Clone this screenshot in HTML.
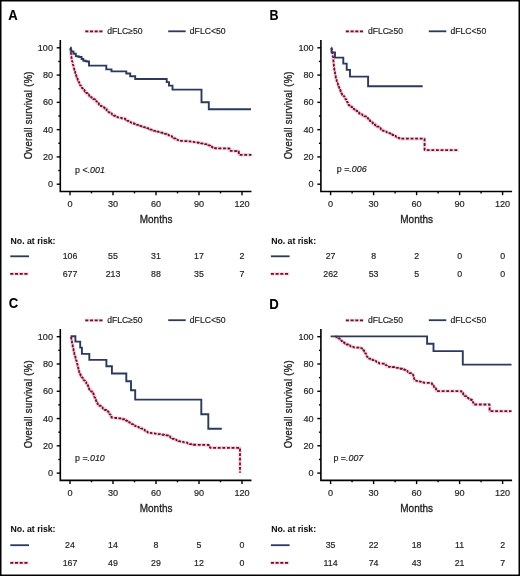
<!DOCTYPE html>
<html><head><meta charset="utf-8"><style>
html,body{margin:0;padding:0;background:#fff;}
svg{display:block;will-change:transform;}
text{font-family:"Liberation Sans", sans-serif;fill:#1e1e1e;stroke:#1e1e1e;stroke-width:0.18px;}
text.ax{stroke-width:0.33px;}
text.let{fill:#000;stroke:#000;stroke-width:0.1px;}
text.nar{fill:#111;stroke:#111;stroke-width:0.05px;}
</style></head><body>
<svg width="520" height="576" viewBox="0 0 520 576">
<rect x="0" y="0" width="520" height="576" fill="#fff"/>
<g transform="translate(0,0)">
<line x1="84.8" y1="31.4" x2="103" y2="31.4" stroke="#f6d0da" stroke-width="3.2"/>
<line x1="85.3" y1="31.4" x2="102.5" y2="31.4" stroke="#6e0e2e" stroke-width="1.8" stroke-dasharray="3,1.7"/>
<text x="107.3" y="33.9" font-size="8.6" textLength="35.2" lengthAdjust="spacingAndGlyphs" >dFLC≥50</text>
<line x1="168.2" y1="31.3" x2="185.7" y2="31.3" stroke="#2b3a5c" stroke-width="1.8"/>
<text x="189.8" y="33.9" font-size="8.6" textLength="35.8" lengthAdjust="spacingAndGlyphs" >dFLC&lt;50</text>
<path d="M60.3,40.1 V191.5 H251.5" fill="none" stroke="#000" stroke-width="1.6" stroke-linejoin="miter"/>
<line x1="56.70" y1="184.20" x2="60.30" y2="184.20" stroke="#000" stroke-width="1.4"/>
<text x="53.0" y="187.20" font-size="9.1" text-anchor="end" >0</text>
<line x1="58.30" y1="170.56" x2="60.30" y2="170.56" stroke="#000" stroke-width="1.4"/>
<line x1="56.70" y1="156.92" x2="60.30" y2="156.92" stroke="#000" stroke-width="1.4"/>
<text x="53.0" y="159.92" font-size="9.1" text-anchor="end" >20</text>
<line x1="58.30" y1="143.28" x2="60.30" y2="143.28" stroke="#000" stroke-width="1.4"/>
<line x1="56.70" y1="129.64" x2="60.30" y2="129.64" stroke="#000" stroke-width="1.4"/>
<text x="53.0" y="132.64" font-size="9.1" text-anchor="end" >40</text>
<line x1="58.30" y1="116.00" x2="60.30" y2="116.00" stroke="#000" stroke-width="1.4"/>
<line x1="56.70" y1="102.36" x2="60.30" y2="102.36" stroke="#000" stroke-width="1.4"/>
<text x="53.0" y="105.36" font-size="9.1" text-anchor="end" >60</text>
<line x1="58.30" y1="88.72" x2="60.30" y2="88.72" stroke="#000" stroke-width="1.4"/>
<line x1="56.70" y1="75.08" x2="60.30" y2="75.08" stroke="#000" stroke-width="1.4"/>
<text x="53.0" y="78.08" font-size="9.1" text-anchor="end" >80</text>
<line x1="58.30" y1="61.44" x2="60.30" y2="61.44" stroke="#000" stroke-width="1.4"/>
<line x1="56.70" y1="47.80" x2="60.30" y2="47.80" stroke="#000" stroke-width="1.4"/>
<text x="53.0" y="50.80" font-size="9.1" text-anchor="end" >100</text>
<line x1="70.00" y1="191.50" x2="70.00" y2="195.20" stroke="#000" stroke-width="1.4"/>
<text x="70.00" y="206.9" font-size="9.1" text-anchor="middle" >0</text>
<line x1="91.50" y1="191.50" x2="91.50" y2="193.40" stroke="#000" stroke-width="1.4"/>
<line x1="113.00" y1="191.50" x2="113.00" y2="195.20" stroke="#000" stroke-width="1.4"/>
<text x="113.00" y="206.9" font-size="9.1" text-anchor="middle" >30</text>
<line x1="134.50" y1="191.50" x2="134.50" y2="193.40" stroke="#000" stroke-width="1.4"/>
<line x1="156.00" y1="191.50" x2="156.00" y2="195.20" stroke="#000" stroke-width="1.4"/>
<text x="156.00" y="206.9" font-size="9.1" text-anchor="middle" >60</text>
<line x1="177.50" y1="191.50" x2="177.50" y2="193.40" stroke="#000" stroke-width="1.4"/>
<line x1="199.00" y1="191.50" x2="199.00" y2="195.20" stroke="#000" stroke-width="1.4"/>
<text x="199.00" y="206.9" font-size="9.1" text-anchor="middle" >90</text>
<line x1="220.50" y1="191.50" x2="220.50" y2="193.40" stroke="#000" stroke-width="1.4"/>
<line x1="242.00" y1="191.50" x2="242.00" y2="195.20" stroke="#000" stroke-width="1.4"/>
<text x="242.00" y="206.9" font-size="9.1" text-anchor="middle" >120</text>
<text x="156.1" y="222.7" font-size="11.6" text-anchor="middle" textLength="32.8" lengthAdjust="spacingAndGlyphs" class="ax">Months</text>
<text transform="translate(31.6,115.4) rotate(-90) scale(0.82,1)" x="0" y="0" font-size="11.5" text-anchor="middle" textLength="107.07" lengthAdjust="spacing" class="ax">Overall survival (%)</text>
<text x="75.1" y="172.5" font-size="8.85" >p <<tspan font-style="italic">.001</tspan></text>
<text x="10.6" y="243.6" font-size="8.7" font-weight="bold" class="nar">No. at risk:</text>
<line x1="10.3" y1="256.3" x2="29.0" y2="256.3" stroke="#2b3a5c" stroke-width="1.8"/>
<line x1="9.8" y1="273.9" x2="28.7" y2="273.9" stroke="#f6d0da" stroke-width="3.2"/>
<line x1="10.3" y1="273.9" x2="28.2" y2="273.9" stroke="#6e0e2e" stroke-width="1.8" stroke-dasharray="3,1.7"/>
<text x="70.00" y="258.8" font-size="8.8" text-anchor="middle" >106</text>
<text x="113.00" y="258.8" font-size="8.8" text-anchor="middle" >55</text>
<text x="156.00" y="258.8" font-size="8.8" text-anchor="middle" >31</text>
<text x="199.00" y="258.8" font-size="8.8" text-anchor="middle" >17</text>
<text x="242.00" y="258.8" font-size="8.8" text-anchor="middle" >2</text>
<text x="70.00" y="277.0" font-size="8.8" text-anchor="middle" >677</text>
<text x="113.00" y="277.0" font-size="8.8" text-anchor="middle" >213</text>
<text x="156.00" y="277.0" font-size="8.8" text-anchor="middle" >88</text>
<text x="199.00" y="277.0" font-size="8.8" text-anchor="middle" >35</text>
<text x="242.00" y="277.0" font-size="8.8" text-anchor="middle" >7</text>
<path d="M70.50,48.00 L70.60,48.00 L70.60,49.77 L70.70,49.77 L70.70,51.53 L70.80,51.53 L70.80,53.30 L71.03,53.30 L71.03,54.97 L71.25,54.97 L71.25,56.65 L71.47,56.65 L71.47,58.33 L71.70,58.33 L71.70,60.00 L72.12,60.00 L72.12,61.66 L72.54,61.66 L72.54,63.32 L72.96,63.32 L72.96,64.98 L73.38,64.98 L73.38,66.64 L73.80,66.64 L73.80,68.30 L74.20,68.30 L74.20,69.90 L74.60,69.90 L74.60,71.50 L75.17,71.50 L75.17,73.25 L75.75,73.25 L75.75,75.00 L76.33,75.00 L76.33,76.75 L76.90,76.75 L76.90,78.50 L77.68,78.50 L77.68,80.22 L78.45,80.22 L78.45,81.95 L79.22,81.95 L79.22,83.68 L80.00,83.68 L80.00,85.40 L81.03,85.40 L81.03,86.93 L82.07,86.93 L82.07,88.47 L83.10,88.47 L83.10,90.00 L84.65,90.00 L84.65,91.55 L86.20,91.55 L86.20,93.10 L87.70,93.10 L87.70,94.65 L89.20,94.65 L89.20,96.20 L91.15,96.20 L91.15,97.70 L93.10,97.70 L93.10,99.20 L95.00,99.20 L95.00,101.15 L96.90,101.15 L96.90,103.10 L98.85,103.10 L98.85,104.65 L100.80,104.65 L100.80,106.20 L102.70,106.20 L102.70,107.35 L104.60,107.35 L104.60,108.50 L106.55,108.50 L106.55,110.40 L108.50,110.40 L108.50,112.30 L110.22,112.30 L110.22,113.45 L111.95,113.45 L111.95,114.60 L113.68,114.60 L113.68,115.75 L115.40,115.75 L115.40,116.90 L117.43,116.90 L117.43,117.35 L119.45,117.35 L119.45,117.80 L121.47,117.80 L121.47,118.25 L123.50,118.25 L123.50,118.70 L125.40,118.70 L125.40,119.83 L127.30,119.83 L127.30,120.97 L129.20,120.97 L129.20,122.10 L131.06,122.10 L131.06,122.80 L132.92,122.80 L132.92,123.50 L134.78,123.50 L134.78,124.20 L136.64,124.20 L136.64,124.90 L138.50,124.90 L138.50,125.60 L140.12,125.60 L140.12,126.07 L141.75,126.07 L141.75,126.55 L143.38,126.55 L143.38,127.03 L145.00,127.03 L145.00,127.50 L146.72,127.50 L146.72,128.22 L148.45,128.22 L148.45,128.95 L150.18,128.95 L150.18,129.68 L151.90,129.68 L151.90,130.40 L153.62,130.40 L153.62,130.82 L155.35,130.82 L155.35,131.25 L157.08,131.25 L157.08,131.68 L158.80,131.68 L158.80,132.10 L160.73,132.10 L160.73,132.67 L162.67,132.67 L162.67,133.23 L164.60,133.23 L164.60,133.80 L166.53,133.80 L166.53,134.60 L168.47,134.60 L168.47,135.40 L170.40,135.40 L170.40,136.20 L172.13,136.20 L172.13,137.33 L173.87,137.33 L173.87,138.47 L175.60,138.47 L175.60,139.60 L177.60,139.60 L177.60,140.20 L179.60,140.20 L179.60,140.80 L181.44,140.80 L181.44,140.90 L183.28,140.90 L183.28,141.00 L185.12,141.00 L185.12,141.10 L186.96,141.10 L186.96,141.20 L188.80,141.20 L188.80,141.30 L190.55,141.30 L190.55,141.60 L192.30,141.60 L192.30,141.90 L194.05,141.90 L194.05,142.20 L195.80,142.20 L195.80,142.50 L197.47,142.50 L197.47,142.77 L199.13,142.77 L199.13,143.03 L200.80,143.03 L200.80,143.30 L202.70,143.30 L202.70,143.67 L204.60,143.67 L204.60,144.03 L206.50,144.03 L206.50,144.40 L208.25,144.40 L208.25,145.35 L210.00,145.35 L210.00,146.30 L211.75,146.30 L211.75,147.25 L213.50,147.25 L213.50,148.20 L215.22,148.20 L215.22,148.24 L216.95,148.24 L216.95,148.27 L218.68,148.27 L218.68,148.31 L220.40,148.31 L220.40,148.35 L222.12,148.35 L222.12,148.39 L223.85,148.39 L223.85,148.43 L225.58,148.43 L225.58,148.46 L227.30,148.46 L227.30,148.50 L229.60,148.50 L229.60,150.80 L231.44,150.80 L231.44,150.90 L233.28,150.90 L233.28,151.00 L235.12,151.00 L235.12,151.10 L236.96,151.10 L236.96,151.20 L238.80,151.20 L238.80,151.30 L238.80,154.80 L251.50,154.80" fill="none" stroke="#f6d0da" stroke-width="3.4" stroke-linejoin="round"/>
<path d="M70.50,48.00 L70.60,48.00 L70.60,49.77 L70.70,49.77 L70.70,51.53 L70.80,51.53 L70.80,53.30 L71.03,53.30 L71.03,54.97 L71.25,54.97 L71.25,56.65 L71.47,56.65 L71.47,58.33 L71.70,58.33 L71.70,60.00 L72.12,60.00 L72.12,61.66 L72.54,61.66 L72.54,63.32 L72.96,63.32 L72.96,64.98 L73.38,64.98 L73.38,66.64 L73.80,66.64 L73.80,68.30 L74.20,68.30 L74.20,69.90 L74.60,69.90 L74.60,71.50 L75.17,71.50 L75.17,73.25 L75.75,73.25 L75.75,75.00 L76.33,75.00 L76.33,76.75 L76.90,76.75 L76.90,78.50 L77.68,78.50 L77.68,80.22 L78.45,80.22 L78.45,81.95 L79.22,81.95 L79.22,83.68 L80.00,83.68 L80.00,85.40 L81.03,85.40 L81.03,86.93 L82.07,86.93 L82.07,88.47 L83.10,88.47 L83.10,90.00 L84.65,90.00 L84.65,91.55 L86.20,91.55 L86.20,93.10 L87.70,93.10 L87.70,94.65 L89.20,94.65 L89.20,96.20 L91.15,96.20 L91.15,97.70 L93.10,97.70 L93.10,99.20 L95.00,99.20 L95.00,101.15 L96.90,101.15 L96.90,103.10 L98.85,103.10 L98.85,104.65 L100.80,104.65 L100.80,106.20 L102.70,106.20 L102.70,107.35 L104.60,107.35 L104.60,108.50 L106.55,108.50 L106.55,110.40 L108.50,110.40 L108.50,112.30 L110.22,112.30 L110.22,113.45 L111.95,113.45 L111.95,114.60 L113.68,114.60 L113.68,115.75 L115.40,115.75 L115.40,116.90 L117.43,116.90 L117.43,117.35 L119.45,117.35 L119.45,117.80 L121.47,117.80 L121.47,118.25 L123.50,118.25 L123.50,118.70 L125.40,118.70 L125.40,119.83 L127.30,119.83 L127.30,120.97 L129.20,120.97 L129.20,122.10 L131.06,122.10 L131.06,122.80 L132.92,122.80 L132.92,123.50 L134.78,123.50 L134.78,124.20 L136.64,124.20 L136.64,124.90 L138.50,124.90 L138.50,125.60 L140.12,125.60 L140.12,126.07 L141.75,126.07 L141.75,126.55 L143.38,126.55 L143.38,127.03 L145.00,127.03 L145.00,127.50 L146.72,127.50 L146.72,128.22 L148.45,128.22 L148.45,128.95 L150.18,128.95 L150.18,129.68 L151.90,129.68 L151.90,130.40 L153.62,130.40 L153.62,130.82 L155.35,130.82 L155.35,131.25 L157.08,131.25 L157.08,131.68 L158.80,131.68 L158.80,132.10 L160.73,132.10 L160.73,132.67 L162.67,132.67 L162.67,133.23 L164.60,133.23 L164.60,133.80 L166.53,133.80 L166.53,134.60 L168.47,134.60 L168.47,135.40 L170.40,135.40 L170.40,136.20 L172.13,136.20 L172.13,137.33 L173.87,137.33 L173.87,138.47 L175.60,138.47 L175.60,139.60 L177.60,139.60 L177.60,140.20 L179.60,140.20 L179.60,140.80 L181.44,140.80 L181.44,140.90 L183.28,140.90 L183.28,141.00 L185.12,141.00 L185.12,141.10 L186.96,141.10 L186.96,141.20 L188.80,141.20 L188.80,141.30 L190.55,141.30 L190.55,141.60 L192.30,141.60 L192.30,141.90 L194.05,141.90 L194.05,142.20 L195.80,142.20 L195.80,142.50 L197.47,142.50 L197.47,142.77 L199.13,142.77 L199.13,143.03 L200.80,143.03 L200.80,143.30 L202.70,143.30 L202.70,143.67 L204.60,143.67 L204.60,144.03 L206.50,144.03 L206.50,144.40 L208.25,144.40 L208.25,145.35 L210.00,145.35 L210.00,146.30 L211.75,146.30 L211.75,147.25 L213.50,147.25 L213.50,148.20 L215.22,148.20 L215.22,148.24 L216.95,148.24 L216.95,148.27 L218.68,148.27 L218.68,148.31 L220.40,148.31 L220.40,148.35 L222.12,148.35 L222.12,148.39 L223.85,148.39 L223.85,148.43 L225.58,148.43 L225.58,148.46 L227.30,148.46 L227.30,148.50 L229.60,148.50 L229.60,150.80 L231.44,150.80 L231.44,150.90 L233.28,150.90 L233.28,151.00 L235.12,151.00 L235.12,151.10 L236.96,151.10 L236.96,151.20 L238.80,151.20 L238.80,151.30 L238.80,154.80 L251.50,154.80" fill="none" stroke="#6e0e2e" stroke-width="1.8" stroke-dasharray="2.8,1.8" stroke-linejoin="bevel"/>
<path d="M70.40,47.80 L70.80,47.80 L70.80,49.65 L71.20,49.65 L71.20,51.50 L73.50,51.50 L73.50,53.80 L75.80,53.80 L75.80,56.10 L77.55,56.10 L77.55,56.55 L79.30,56.55 L79.30,57.00 L81.60,57.00 L81.60,59.00 L83.30,59.00 L83.30,60.70 L85.60,60.70 L85.60,61.30 L87.30,61.30 L87.30,61.55 L89.00,61.55 L89.00,61.80 L89.00,65.60 L106.30,65.60 L106.30,69.40 L111.50,69.40 L111.50,71.40 L126.30,71.40 L126.30,73.50 L130.20,73.50 L130.20,76.30 L135.20,76.30 L135.20,79.00 L166.70,79.00 L166.70,82.10 L169.00,82.10 L169.00,85.60 L172.50,85.60 L172.50,89.60 L201.50,89.60 L201.50,102.30 L208.80,102.30 L208.80,109.20 L251.00,109.20" fill="none" stroke="#2b3a5c" stroke-width="1.9" stroke-linejoin="miter"/>
</g>
<g transform="translate(260.6,0)">
<line x1="84.8" y1="31.4" x2="103" y2="31.4" stroke="#f6d0da" stroke-width="3.2"/>
<line x1="85.3" y1="31.4" x2="102.5" y2="31.4" stroke="#6e0e2e" stroke-width="1.8" stroke-dasharray="3,1.7"/>
<text x="107.3" y="33.9" font-size="8.6" textLength="35.2" lengthAdjust="spacingAndGlyphs" >dFLC≥50</text>
<line x1="168.2" y1="31.3" x2="185.7" y2="31.3" stroke="#2b3a5c" stroke-width="1.8"/>
<text x="189.8" y="33.9" font-size="8.6" textLength="35.8" lengthAdjust="spacingAndGlyphs" >dFLC&lt;50</text>
<path d="M60.3,40.1 V191.5 H251.5" fill="none" stroke="#000" stroke-width="1.6" stroke-linejoin="miter"/>
<line x1="56.70" y1="184.20" x2="60.30" y2="184.20" stroke="#000" stroke-width="1.4"/>
<text x="53.0" y="187.20" font-size="9.1" text-anchor="end" >0</text>
<line x1="58.30" y1="170.56" x2="60.30" y2="170.56" stroke="#000" stroke-width="1.4"/>
<line x1="56.70" y1="156.92" x2="60.30" y2="156.92" stroke="#000" stroke-width="1.4"/>
<text x="53.0" y="159.92" font-size="9.1" text-anchor="end" >20</text>
<line x1="58.30" y1="143.28" x2="60.30" y2="143.28" stroke="#000" stroke-width="1.4"/>
<line x1="56.70" y1="129.64" x2="60.30" y2="129.64" stroke="#000" stroke-width="1.4"/>
<text x="53.0" y="132.64" font-size="9.1" text-anchor="end" >40</text>
<line x1="58.30" y1="116.00" x2="60.30" y2="116.00" stroke="#000" stroke-width="1.4"/>
<line x1="56.70" y1="102.36" x2="60.30" y2="102.36" stroke="#000" stroke-width="1.4"/>
<text x="53.0" y="105.36" font-size="9.1" text-anchor="end" >60</text>
<line x1="58.30" y1="88.72" x2="60.30" y2="88.72" stroke="#000" stroke-width="1.4"/>
<line x1="56.70" y1="75.08" x2="60.30" y2="75.08" stroke="#000" stroke-width="1.4"/>
<text x="53.0" y="78.08" font-size="9.1" text-anchor="end" >80</text>
<line x1="58.30" y1="61.44" x2="60.30" y2="61.44" stroke="#000" stroke-width="1.4"/>
<line x1="56.70" y1="47.80" x2="60.30" y2="47.80" stroke="#000" stroke-width="1.4"/>
<text x="53.0" y="50.80" font-size="9.1" text-anchor="end" >100</text>
<line x1="70.00" y1="191.50" x2="70.00" y2="195.20" stroke="#000" stroke-width="1.4"/>
<text x="70.00" y="206.9" font-size="9.1" text-anchor="middle" >0</text>
<line x1="91.50" y1="191.50" x2="91.50" y2="193.40" stroke="#000" stroke-width="1.4"/>
<line x1="113.00" y1="191.50" x2="113.00" y2="195.20" stroke="#000" stroke-width="1.4"/>
<text x="113.00" y="206.9" font-size="9.1" text-anchor="middle" >30</text>
<line x1="134.50" y1="191.50" x2="134.50" y2="193.40" stroke="#000" stroke-width="1.4"/>
<line x1="156.00" y1="191.50" x2="156.00" y2="195.20" stroke="#000" stroke-width="1.4"/>
<text x="156.00" y="206.9" font-size="9.1" text-anchor="middle" >60</text>
<line x1="177.50" y1="191.50" x2="177.50" y2="193.40" stroke="#000" stroke-width="1.4"/>
<line x1="199.00" y1="191.50" x2="199.00" y2="195.20" stroke="#000" stroke-width="1.4"/>
<text x="199.00" y="206.9" font-size="9.1" text-anchor="middle" >90</text>
<line x1="220.50" y1="191.50" x2="220.50" y2="193.40" stroke="#000" stroke-width="1.4"/>
<line x1="242.00" y1="191.50" x2="242.00" y2="195.20" stroke="#000" stroke-width="1.4"/>
<text x="242.00" y="206.9" font-size="9.1" text-anchor="middle" >120</text>
<text x="156.1" y="222.7" font-size="11.6" text-anchor="middle" textLength="32.8" lengthAdjust="spacingAndGlyphs" class="ax">Months</text>
<text transform="translate(31.6,115.4) rotate(-90) scale(0.82,1)" x="0" y="0" font-size="11.5" text-anchor="middle" textLength="107.07" lengthAdjust="spacing" class="ax">Overall survival (%)</text>
<text x="76.2" y="172.3" font-size="8.85" >p =<tspan font-style="italic">.006</tspan></text>
<text x="10.6" y="243.6" font-size="8.7" font-weight="bold" class="nar">No. at risk:</text>
<line x1="10.3" y1="256.3" x2="29.0" y2="256.3" stroke="#2b3a5c" stroke-width="1.8"/>
<line x1="9.8" y1="273.9" x2="28.7" y2="273.9" stroke="#f6d0da" stroke-width="3.2"/>
<line x1="10.3" y1="273.9" x2="28.2" y2="273.9" stroke="#6e0e2e" stroke-width="1.8" stroke-dasharray="3,1.7"/>
<text x="70.00" y="258.8" font-size="8.8" text-anchor="middle" >27</text>
<text x="113.00" y="258.8" font-size="8.8" text-anchor="middle" >8</text>
<text x="156.00" y="258.8" font-size="8.8" text-anchor="middle" >2</text>
<text x="199.00" y="258.8" font-size="8.8" text-anchor="middle" >0</text>
<text x="242.00" y="258.8" font-size="8.8" text-anchor="middle" >0</text>
<text x="70.00" y="277.0" font-size="8.8" text-anchor="middle" >262</text>
<text x="113.00" y="277.0" font-size="8.8" text-anchor="middle" >53</text>
<text x="156.00" y="277.0" font-size="8.8" text-anchor="middle" >5</text>
<text x="199.00" y="277.0" font-size="8.8" text-anchor="middle" >0</text>
<text x="242.00" y="277.0" font-size="8.8" text-anchor="middle" >0</text>
<path d="M70.70,47.80 L71.00,47.80 L71.00,49.53 L71.30,49.53 L71.30,51.27 L71.60,51.27 L71.60,53.00 L71.90,53.00 L71.90,54.97 L72.20,54.97 L72.20,56.93 L72.50,56.93 L72.50,58.90 L72.70,58.90 L72.70,60.75 L72.90,60.75 L72.90,62.60 L73.10,62.60 L73.10,64.45 L73.30,64.45 L73.30,66.30 L73.50,66.30 L73.50,68.15 L73.70,68.15 L73.70,70.00 L74.06,70.00 L74.06,71.94 L74.42,71.94 L74.42,73.88 L74.78,73.88 L74.78,75.82 L75.14,75.82 L75.14,77.76 L75.50,77.76 L75.50,79.70 L76.10,79.70 L76.10,81.45 L76.70,81.45 L76.70,83.20 L77.30,83.20 L77.30,84.95 L77.90,84.95 L77.90,86.70 L78.60,86.70 L78.60,88.36 L79.30,88.36 L79.30,90.02 L80.00,90.02 L80.00,91.68 L80.70,91.68 L80.70,93.34 L81.40,93.34 L81.40,95.00 L82.90,95.00 L82.90,96.20 L83.83,96.20 L83.83,97.73 L84.77,97.73 L84.77,99.27 L85.70,99.27 L85.70,100.80 L86.50,100.80 L86.50,102.33 L87.30,102.33 L87.30,103.87 L88.10,103.87 L88.10,105.40 L89.80,105.40 L89.80,106.73 L91.50,106.73 L91.50,108.07 L93.20,108.07 L93.20,109.40 L94.93,109.40 L94.93,110.77 L96.67,110.77 L96.67,112.13 L98.40,112.13 L98.40,113.50 L100.13,113.50 L100.13,114.43 L101.87,114.43 L101.87,115.37 L103.60,115.37 L103.60,116.30 L105.65,116.30 L105.65,118.05 L107.70,118.05 L107.70,119.80 L109.23,119.80 L109.23,121.13 L110.77,121.13 L110.77,122.47 L112.30,122.47 L112.30,123.80 L114.30,123.80 L114.30,125.25 L116.30,125.25 L116.30,126.70 L118.23,126.70 L118.23,128.07 L120.17,128.07 L120.17,129.43 L122.10,129.43 L122.10,130.80 L124.03,130.80 L124.03,131.57 L125.97,131.57 L125.97,132.33 L127.90,132.33 L127.90,133.10 L129.80,133.10 L129.80,134.07 L131.70,134.07 L131.70,135.03 L133.60,135.03 L133.60,136.00 L135.33,136.00 L135.33,136.90 L137.07,136.90 L137.07,137.80 L138.80,137.80 L138.80,138.70 L164.00,138.70 L164.00,150.10 L198.20,150.10" fill="none" stroke="#f6d0da" stroke-width="3.4" stroke-linejoin="round"/>
<path d="M70.70,47.80 L71.00,47.80 L71.00,49.53 L71.30,49.53 L71.30,51.27 L71.60,51.27 L71.60,53.00 L71.90,53.00 L71.90,54.97 L72.20,54.97 L72.20,56.93 L72.50,56.93 L72.50,58.90 L72.70,58.90 L72.70,60.75 L72.90,60.75 L72.90,62.60 L73.10,62.60 L73.10,64.45 L73.30,64.45 L73.30,66.30 L73.50,66.30 L73.50,68.15 L73.70,68.15 L73.70,70.00 L74.06,70.00 L74.06,71.94 L74.42,71.94 L74.42,73.88 L74.78,73.88 L74.78,75.82 L75.14,75.82 L75.14,77.76 L75.50,77.76 L75.50,79.70 L76.10,79.70 L76.10,81.45 L76.70,81.45 L76.70,83.20 L77.30,83.20 L77.30,84.95 L77.90,84.95 L77.90,86.70 L78.60,86.70 L78.60,88.36 L79.30,88.36 L79.30,90.02 L80.00,90.02 L80.00,91.68 L80.70,91.68 L80.70,93.34 L81.40,93.34 L81.40,95.00 L82.90,95.00 L82.90,96.20 L83.83,96.20 L83.83,97.73 L84.77,97.73 L84.77,99.27 L85.70,99.27 L85.70,100.80 L86.50,100.80 L86.50,102.33 L87.30,102.33 L87.30,103.87 L88.10,103.87 L88.10,105.40 L89.80,105.40 L89.80,106.73 L91.50,106.73 L91.50,108.07 L93.20,108.07 L93.20,109.40 L94.93,109.40 L94.93,110.77 L96.67,110.77 L96.67,112.13 L98.40,112.13 L98.40,113.50 L100.13,113.50 L100.13,114.43 L101.87,114.43 L101.87,115.37 L103.60,115.37 L103.60,116.30 L105.65,116.30 L105.65,118.05 L107.70,118.05 L107.70,119.80 L109.23,119.80 L109.23,121.13 L110.77,121.13 L110.77,122.47 L112.30,122.47 L112.30,123.80 L114.30,123.80 L114.30,125.25 L116.30,125.25 L116.30,126.70 L118.23,126.70 L118.23,128.07 L120.17,128.07 L120.17,129.43 L122.10,129.43 L122.10,130.80 L124.03,130.80 L124.03,131.57 L125.97,131.57 L125.97,132.33 L127.90,132.33 L127.90,133.10 L129.80,133.10 L129.80,134.07 L131.70,134.07 L131.70,135.03 L133.60,135.03 L133.60,136.00 L135.33,136.00 L135.33,136.90 L137.07,136.90 L137.07,137.80 L138.80,137.80 L138.80,138.70 L164.00,138.70 L164.00,150.10 L198.20,150.10" fill="none" stroke="#6e0e2e" stroke-width="1.8" stroke-dasharray="2.8,1.8" stroke-linejoin="bevel"/>
<path d="M71.00,48.00 L71.00,52.40 L74.40,52.40 L74.40,57.60 L82.70,57.60 L82.70,63.60 L86.10,63.60 L86.10,69.90 L89.40,69.90 L89.40,76.60 L107.50,76.60 L107.50,86.20 L162.10,86.20" fill="none" stroke="#2b3a5c" stroke-width="1.9" stroke-linejoin="miter"/>
</g>
<g transform="translate(0,288.9)">
<line x1="84.8" y1="31.4" x2="103" y2="31.4" stroke="#f6d0da" stroke-width="3.2"/>
<line x1="85.3" y1="31.4" x2="102.5" y2="31.4" stroke="#6e0e2e" stroke-width="1.8" stroke-dasharray="3,1.7"/>
<text x="107.3" y="33.9" font-size="8.6" textLength="35.2" lengthAdjust="spacingAndGlyphs" >dFLC≥50</text>
<line x1="168.2" y1="31.3" x2="185.7" y2="31.3" stroke="#2b3a5c" stroke-width="1.8"/>
<text x="189.8" y="33.9" font-size="8.6" textLength="35.8" lengthAdjust="spacingAndGlyphs" >dFLC&lt;50</text>
<path d="M60.3,40.1 V191.5 H251.5" fill="none" stroke="#000" stroke-width="1.6" stroke-linejoin="miter"/>
<line x1="56.70" y1="184.20" x2="60.30" y2="184.20" stroke="#000" stroke-width="1.4"/>
<text x="53.0" y="187.20" font-size="9.1" text-anchor="end" >0</text>
<line x1="58.30" y1="170.56" x2="60.30" y2="170.56" stroke="#000" stroke-width="1.4"/>
<line x1="56.70" y1="156.92" x2="60.30" y2="156.92" stroke="#000" stroke-width="1.4"/>
<text x="53.0" y="159.92" font-size="9.1" text-anchor="end" >20</text>
<line x1="58.30" y1="143.28" x2="60.30" y2="143.28" stroke="#000" stroke-width="1.4"/>
<line x1="56.70" y1="129.64" x2="60.30" y2="129.64" stroke="#000" stroke-width="1.4"/>
<text x="53.0" y="132.64" font-size="9.1" text-anchor="end" >40</text>
<line x1="58.30" y1="116.00" x2="60.30" y2="116.00" stroke="#000" stroke-width="1.4"/>
<line x1="56.70" y1="102.36" x2="60.30" y2="102.36" stroke="#000" stroke-width="1.4"/>
<text x="53.0" y="105.36" font-size="9.1" text-anchor="end" >60</text>
<line x1="58.30" y1="88.72" x2="60.30" y2="88.72" stroke="#000" stroke-width="1.4"/>
<line x1="56.70" y1="75.08" x2="60.30" y2="75.08" stroke="#000" stroke-width="1.4"/>
<text x="53.0" y="78.08" font-size="9.1" text-anchor="end" >80</text>
<line x1="58.30" y1="61.44" x2="60.30" y2="61.44" stroke="#000" stroke-width="1.4"/>
<line x1="56.70" y1="47.80" x2="60.30" y2="47.80" stroke="#000" stroke-width="1.4"/>
<text x="53.0" y="50.80" font-size="9.1" text-anchor="end" >100</text>
<line x1="70.00" y1="191.50" x2="70.00" y2="195.20" stroke="#000" stroke-width="1.4"/>
<text x="70.00" y="206.9" font-size="9.1" text-anchor="middle" >0</text>
<line x1="91.50" y1="191.50" x2="91.50" y2="193.40" stroke="#000" stroke-width="1.4"/>
<line x1="113.00" y1="191.50" x2="113.00" y2="195.20" stroke="#000" stroke-width="1.4"/>
<text x="113.00" y="206.9" font-size="9.1" text-anchor="middle" >30</text>
<line x1="134.50" y1="191.50" x2="134.50" y2="193.40" stroke="#000" stroke-width="1.4"/>
<line x1="156.00" y1="191.50" x2="156.00" y2="195.20" stroke="#000" stroke-width="1.4"/>
<text x="156.00" y="206.9" font-size="9.1" text-anchor="middle" >60</text>
<line x1="177.50" y1="191.50" x2="177.50" y2="193.40" stroke="#000" stroke-width="1.4"/>
<line x1="199.00" y1="191.50" x2="199.00" y2="195.20" stroke="#000" stroke-width="1.4"/>
<text x="199.00" y="206.9" font-size="9.1" text-anchor="middle" >90</text>
<line x1="220.50" y1="191.50" x2="220.50" y2="193.40" stroke="#000" stroke-width="1.4"/>
<line x1="242.00" y1="191.50" x2="242.00" y2="195.20" stroke="#000" stroke-width="1.4"/>
<text x="242.00" y="206.9" font-size="9.1" text-anchor="middle" >120</text>
<text x="156.1" y="222.7" font-size="11.6" text-anchor="middle" textLength="32.8" lengthAdjust="spacingAndGlyphs" class="ax">Months</text>
<text transform="translate(31.6,115.4) rotate(-90) scale(0.82,1)" x="0" y="0" font-size="11.5" text-anchor="middle" textLength="107.07" lengthAdjust="spacing" class="ax">Overall survival (%)</text>
<text x="75.0" y="172.6" font-size="8.85" >p =<tspan font-style="italic">.010</tspan></text>
<text x="10.6" y="243.6" font-size="8.7" font-weight="bold" class="nar">No. at risk:</text>
<line x1="10.3" y1="256.3" x2="29.0" y2="256.3" stroke="#2b3a5c" stroke-width="1.8"/>
<line x1="9.8" y1="273.9" x2="28.7" y2="273.9" stroke="#f6d0da" stroke-width="3.2"/>
<line x1="10.3" y1="273.9" x2="28.2" y2="273.9" stroke="#6e0e2e" stroke-width="1.8" stroke-dasharray="3,1.7"/>
<text x="70.00" y="258.8" font-size="8.8" text-anchor="middle" >24</text>
<text x="113.00" y="258.8" font-size="8.8" text-anchor="middle" >14</text>
<text x="156.00" y="258.8" font-size="8.8" text-anchor="middle" >8</text>
<text x="199.00" y="258.8" font-size="8.8" text-anchor="middle" >5</text>
<text x="242.00" y="258.8" font-size="8.8" text-anchor="middle" >0</text>
<text x="70.00" y="277.0" font-size="8.8" text-anchor="middle" >167</text>
<text x="113.00" y="277.0" font-size="8.8" text-anchor="middle" >49</text>
<text x="156.00" y="277.0" font-size="8.8" text-anchor="middle" >29</text>
<text x="199.00" y="277.0" font-size="8.8" text-anchor="middle" >12</text>
<text x="242.00" y="277.0" font-size="8.8" text-anchor="middle" >0</text>
<path d="M70.90,48.20 L71.25,48.20 L71.25,50.10 L71.60,50.10 L71.60,52.00 L71.95,52.00 L71.95,53.90 L72.30,53.90 L72.30,55.80 L72.70,55.80 L72.70,57.74 L73.10,57.74 L73.10,59.68 L73.50,59.68 L73.50,61.62 L73.90,61.62 L73.90,63.56 L74.30,63.56 L74.30,65.50 L74.86,65.50 L74.86,67.46 L75.42,67.46 L75.42,69.42 L75.98,69.42 L75.98,71.38 L76.54,71.38 L76.54,73.34 L77.10,73.34 L77.10,75.30 L77.52,75.30 L77.52,76.96 L77.94,76.96 L77.94,78.62 L78.36,78.62 L78.36,80.28 L78.78,80.28 L78.78,81.94 L79.20,81.94 L79.20,83.60 L79.90,83.60 L79.90,85.25 L80.60,85.25 L80.60,86.90 L81.63,86.90 L81.63,88.43 L82.67,88.43 L82.67,89.97 L83.70,89.97 L83.70,91.50 L84.97,91.50 L84.97,93.03 L86.23,93.03 L86.23,94.57 L87.50,94.57 L87.50,96.10 L88.03,96.10 L88.03,97.63 L88.57,97.63 L88.57,99.17 L89.10,99.17 L89.10,100.70 L91.00,100.70 L91.00,102.65 L92.90,102.65 L92.90,104.60 L93.67,104.60 L93.67,106.63 L94.43,106.63 L94.43,108.67 L95.20,108.67 L95.20,110.70 L95.97,110.70 L95.97,112.23 L96.73,112.23 L96.73,113.77 L97.50,113.77 L97.50,115.30 L99.15,115.30 L99.15,116.85 L100.80,116.85 L100.80,118.40 L102.70,118.40 L102.70,119.75 L104.60,119.75 L104.60,121.10 L106.55,121.10 L106.55,122.45 L108.50,122.45 L108.50,123.80 L109.50,123.80 L109.50,125.47 L110.50,125.47 L110.50,127.13 L111.50,127.13 L111.50,128.80 L113.36,128.80 L113.36,128.96 L115.22,128.96 L115.22,129.12 L117.08,129.12 L117.08,129.28 L118.94,129.28 L118.94,129.44 L120.80,129.44 L120.80,129.60 L122.70,129.60 L122.70,130.35 L124.60,130.35 L124.60,131.10 L126.13,131.10 L126.13,132.00 L127.67,132.00 L127.67,132.90 L129.20,132.90 L129.20,133.80 L131.15,133.80 L131.15,135.15 L133.10,135.15 L133.10,136.50 L135.00,136.50 L135.00,137.25 L136.90,137.25 L136.90,138.00 L138.97,138.00 L138.97,138.90 L141.03,138.90 L141.03,139.80 L143.10,139.80 L143.10,140.70 L144.63,140.70 L144.63,141.73 L146.17,141.73 L146.17,142.77 L147.70,142.77 L147.70,143.80 L149.50,143.80 L149.50,144.05 L151.30,144.05 L151.30,144.30 L153.10,144.30 L153.10,144.55 L154.90,144.55 L154.90,144.80 L156.70,144.80 L156.70,145.05 L158.50,145.05 L158.50,145.30 L160.43,145.30 L160.43,145.58 L162.35,145.58 L162.35,145.85 L164.27,145.85 L164.27,146.12 L166.20,146.12 L166.20,146.40 L168.23,146.40 L168.23,147.57 L170.27,147.57 L170.27,148.73 L172.30,148.73 L172.30,149.90 L174.37,149.90 L174.37,150.70 L176.43,150.70 L176.43,151.50 L178.50,151.50 L178.50,152.30 L180.22,152.30 L180.22,152.68 L181.95,152.68 L181.95,153.05 L183.68,153.05 L183.68,153.43 L185.40,153.43 L185.40,153.80 L187.43,153.80 L187.43,154.47 L189.47,154.47 L189.47,155.13 L191.50,155.13 L191.50,155.80 L193.30,155.80 L193.30,155.83 L195.10,155.83 L195.10,155.87 L196.90,155.87 L196.90,155.90 L198.70,155.90 L198.70,155.93 L200.50,155.93 L200.50,155.97 L202.30,155.97 L202.30,156.00 L204.10,156.00 L204.10,156.03 L205.90,156.03 L205.90,156.07 L207.70,156.07 L207.70,156.10 L208.85,156.10 L208.85,157.50 L210.00,157.50 L210.00,158.90 L240.00,158.90 L240.00,183.80" fill="none" stroke="#f6d0da" stroke-width="3.4" stroke-linejoin="round"/>
<path d="M70.90,48.20 L71.25,48.20 L71.25,50.10 L71.60,50.10 L71.60,52.00 L71.95,52.00 L71.95,53.90 L72.30,53.90 L72.30,55.80 L72.70,55.80 L72.70,57.74 L73.10,57.74 L73.10,59.68 L73.50,59.68 L73.50,61.62 L73.90,61.62 L73.90,63.56 L74.30,63.56 L74.30,65.50 L74.86,65.50 L74.86,67.46 L75.42,67.46 L75.42,69.42 L75.98,69.42 L75.98,71.38 L76.54,71.38 L76.54,73.34 L77.10,73.34 L77.10,75.30 L77.52,75.30 L77.52,76.96 L77.94,76.96 L77.94,78.62 L78.36,78.62 L78.36,80.28 L78.78,80.28 L78.78,81.94 L79.20,81.94 L79.20,83.60 L79.90,83.60 L79.90,85.25 L80.60,85.25 L80.60,86.90 L81.63,86.90 L81.63,88.43 L82.67,88.43 L82.67,89.97 L83.70,89.97 L83.70,91.50 L84.97,91.50 L84.97,93.03 L86.23,93.03 L86.23,94.57 L87.50,94.57 L87.50,96.10 L88.03,96.10 L88.03,97.63 L88.57,97.63 L88.57,99.17 L89.10,99.17 L89.10,100.70 L91.00,100.70 L91.00,102.65 L92.90,102.65 L92.90,104.60 L93.67,104.60 L93.67,106.63 L94.43,106.63 L94.43,108.67 L95.20,108.67 L95.20,110.70 L95.97,110.70 L95.97,112.23 L96.73,112.23 L96.73,113.77 L97.50,113.77 L97.50,115.30 L99.15,115.30 L99.15,116.85 L100.80,116.85 L100.80,118.40 L102.70,118.40 L102.70,119.75 L104.60,119.75 L104.60,121.10 L106.55,121.10 L106.55,122.45 L108.50,122.45 L108.50,123.80 L109.50,123.80 L109.50,125.47 L110.50,125.47 L110.50,127.13 L111.50,127.13 L111.50,128.80 L113.36,128.80 L113.36,128.96 L115.22,128.96 L115.22,129.12 L117.08,129.12 L117.08,129.28 L118.94,129.28 L118.94,129.44 L120.80,129.44 L120.80,129.60 L122.70,129.60 L122.70,130.35 L124.60,130.35 L124.60,131.10 L126.13,131.10 L126.13,132.00 L127.67,132.00 L127.67,132.90 L129.20,132.90 L129.20,133.80 L131.15,133.80 L131.15,135.15 L133.10,135.15 L133.10,136.50 L135.00,136.50 L135.00,137.25 L136.90,137.25 L136.90,138.00 L138.97,138.00 L138.97,138.90 L141.03,138.90 L141.03,139.80 L143.10,139.80 L143.10,140.70 L144.63,140.70 L144.63,141.73 L146.17,141.73 L146.17,142.77 L147.70,142.77 L147.70,143.80 L149.50,143.80 L149.50,144.05 L151.30,144.05 L151.30,144.30 L153.10,144.30 L153.10,144.55 L154.90,144.55 L154.90,144.80 L156.70,144.80 L156.70,145.05 L158.50,145.05 L158.50,145.30 L160.43,145.30 L160.43,145.58 L162.35,145.58 L162.35,145.85 L164.27,145.85 L164.27,146.12 L166.20,146.12 L166.20,146.40 L168.23,146.40 L168.23,147.57 L170.27,147.57 L170.27,148.73 L172.30,148.73 L172.30,149.90 L174.37,149.90 L174.37,150.70 L176.43,150.70 L176.43,151.50 L178.50,151.50 L178.50,152.30 L180.22,152.30 L180.22,152.68 L181.95,152.68 L181.95,153.05 L183.68,153.05 L183.68,153.43 L185.40,153.43 L185.40,153.80 L187.43,153.80 L187.43,154.47 L189.47,154.47 L189.47,155.13 L191.50,155.13 L191.50,155.80 L193.30,155.80 L193.30,155.83 L195.10,155.83 L195.10,155.87 L196.90,155.87 L196.90,155.90 L198.70,155.90 L198.70,155.93 L200.50,155.93 L200.50,155.97 L202.30,155.97 L202.30,156.00 L204.10,156.00 L204.10,156.03 L205.90,156.03 L205.90,156.07 L207.70,156.07 L207.70,156.10 L208.85,156.10 L208.85,157.50 L210.00,157.50 L210.00,158.90 L240.00,158.90 L240.00,183.80" fill="none" stroke="#6e0e2e" stroke-width="1.8" stroke-dasharray="2.8,1.8" stroke-linejoin="bevel"/>
<path d="M70.60,47.40 L75.40,47.40 L75.40,52.70 L80.20,52.70 L80.20,58.70 L81.90,58.70 L81.90,65.00 L89.30,65.00 L89.30,71.00 L106.40,71.00 L106.40,77.40 L111.90,77.40 L111.90,84.60 L126.30,84.60 L126.30,92.40 L131.00,92.40 L131.00,101.30 L135.20,101.30 L135.20,110.70 L201.30,110.70 L201.30,125.30 L208.30,125.30 L208.30,139.90 L221.80,139.90" fill="none" stroke="#2b3a5c" stroke-width="1.9" stroke-linejoin="miter"/>
</g>
<g transform="translate(260.6,288.9)">
<line x1="84.8" y1="31.4" x2="103" y2="31.4" stroke="#f6d0da" stroke-width="3.2"/>
<line x1="85.3" y1="31.4" x2="102.5" y2="31.4" stroke="#6e0e2e" stroke-width="1.8" stroke-dasharray="3,1.7"/>
<text x="107.3" y="33.9" font-size="8.6" textLength="35.2" lengthAdjust="spacingAndGlyphs" >dFLC≥50</text>
<line x1="168.2" y1="31.3" x2="185.7" y2="31.3" stroke="#2b3a5c" stroke-width="1.8"/>
<text x="189.8" y="33.9" font-size="8.6" textLength="35.8" lengthAdjust="spacingAndGlyphs" >dFLC&lt;50</text>
<path d="M60.3,40.1 V191.5 H251.5" fill="none" stroke="#000" stroke-width="1.6" stroke-linejoin="miter"/>
<line x1="56.70" y1="184.20" x2="60.30" y2="184.20" stroke="#000" stroke-width="1.4"/>
<text x="53.0" y="187.20" font-size="9.1" text-anchor="end" >0</text>
<line x1="58.30" y1="170.56" x2="60.30" y2="170.56" stroke="#000" stroke-width="1.4"/>
<line x1="56.70" y1="156.92" x2="60.30" y2="156.92" stroke="#000" stroke-width="1.4"/>
<text x="53.0" y="159.92" font-size="9.1" text-anchor="end" >20</text>
<line x1="58.30" y1="143.28" x2="60.30" y2="143.28" stroke="#000" stroke-width="1.4"/>
<line x1="56.70" y1="129.64" x2="60.30" y2="129.64" stroke="#000" stroke-width="1.4"/>
<text x="53.0" y="132.64" font-size="9.1" text-anchor="end" >40</text>
<line x1="58.30" y1="116.00" x2="60.30" y2="116.00" stroke="#000" stroke-width="1.4"/>
<line x1="56.70" y1="102.36" x2="60.30" y2="102.36" stroke="#000" stroke-width="1.4"/>
<text x="53.0" y="105.36" font-size="9.1" text-anchor="end" >60</text>
<line x1="58.30" y1="88.72" x2="60.30" y2="88.72" stroke="#000" stroke-width="1.4"/>
<line x1="56.70" y1="75.08" x2="60.30" y2="75.08" stroke="#000" stroke-width="1.4"/>
<text x="53.0" y="78.08" font-size="9.1" text-anchor="end" >80</text>
<line x1="58.30" y1="61.44" x2="60.30" y2="61.44" stroke="#000" stroke-width="1.4"/>
<line x1="56.70" y1="47.80" x2="60.30" y2="47.80" stroke="#000" stroke-width="1.4"/>
<text x="53.0" y="50.80" font-size="9.1" text-anchor="end" >100</text>
<line x1="70.00" y1="191.50" x2="70.00" y2="195.20" stroke="#000" stroke-width="1.4"/>
<text x="70.00" y="206.9" font-size="9.1" text-anchor="middle" >0</text>
<line x1="91.50" y1="191.50" x2="91.50" y2="193.40" stroke="#000" stroke-width="1.4"/>
<line x1="113.00" y1="191.50" x2="113.00" y2="195.20" stroke="#000" stroke-width="1.4"/>
<text x="113.00" y="206.9" font-size="9.1" text-anchor="middle" >30</text>
<line x1="134.50" y1="191.50" x2="134.50" y2="193.40" stroke="#000" stroke-width="1.4"/>
<line x1="156.00" y1="191.50" x2="156.00" y2="195.20" stroke="#000" stroke-width="1.4"/>
<text x="156.00" y="206.9" font-size="9.1" text-anchor="middle" >60</text>
<line x1="177.50" y1="191.50" x2="177.50" y2="193.40" stroke="#000" stroke-width="1.4"/>
<line x1="199.00" y1="191.50" x2="199.00" y2="195.20" stroke="#000" stroke-width="1.4"/>
<text x="199.00" y="206.9" font-size="9.1" text-anchor="middle" >90</text>
<line x1="220.50" y1="191.50" x2="220.50" y2="193.40" stroke="#000" stroke-width="1.4"/>
<line x1="242.00" y1="191.50" x2="242.00" y2="195.20" stroke="#000" stroke-width="1.4"/>
<text x="242.00" y="206.9" font-size="9.1" text-anchor="middle" >120</text>
<text x="156.1" y="222.7" font-size="11.6" text-anchor="middle" textLength="32.8" lengthAdjust="spacingAndGlyphs" class="ax">Months</text>
<text transform="translate(31.6,115.4) rotate(-90) scale(0.82,1)" x="0" y="0" font-size="11.5" text-anchor="middle" textLength="107.07" lengthAdjust="spacing" class="ax">Overall survival (%)</text>
<text x="72.9" y="172.6" font-size="8.85" >p =<tspan font-style="italic">.007</tspan></text>
<text x="10.6" y="243.6" font-size="8.7" font-weight="bold" class="nar">No. at risk:</text>
<line x1="10.3" y1="256.3" x2="29.0" y2="256.3" stroke="#2b3a5c" stroke-width="1.8"/>
<line x1="9.8" y1="273.9" x2="28.7" y2="273.9" stroke="#f6d0da" stroke-width="3.2"/>
<line x1="10.3" y1="273.9" x2="28.2" y2="273.9" stroke="#6e0e2e" stroke-width="1.8" stroke-dasharray="3,1.7"/>
<text x="70.00" y="258.8" font-size="8.8" text-anchor="middle" >35</text>
<text x="113.00" y="258.8" font-size="8.8" text-anchor="middle" >22</text>
<text x="156.00" y="258.8" font-size="8.8" text-anchor="middle" >18</text>
<text x="199.00" y="258.8" font-size="8.8" text-anchor="middle" >11</text>
<text x="242.00" y="258.8" font-size="8.8" text-anchor="middle" >2</text>
<text x="70.00" y="277.0" font-size="8.8" text-anchor="middle" >114</text>
<text x="113.00" y="277.0" font-size="8.8" text-anchor="middle" >74</text>
<text x="156.00" y="277.0" font-size="8.8" text-anchor="middle" >43</text>
<text x="199.00" y="277.0" font-size="8.8" text-anchor="middle" >21</text>
<text x="242.00" y="277.0" font-size="8.8" text-anchor="middle" >7</text>
<path d="M74.60,47.70 L75.90,47.70 L75.90,48.30 L77.55,48.30 L77.55,49.50 L79.20,49.50 L79.20,50.70 L80.70,50.70 L80.70,52.15 L82.20,52.15 L82.20,53.60 L84.05,53.60 L84.05,54.60 L85.90,54.60 L85.90,55.60 L87.75,55.60 L87.75,56.50 L89.60,56.50 L89.60,57.40 L91.50,57.40 L91.50,58.05 L93.40,58.05 L93.40,58.70 L97.70,58.70 L99.60,58.70 L99.60,59.30 L101.50,59.30 L101.50,59.90 L102.50,59.90 L102.50,61.30 L103.50,61.30 L103.50,62.70 L104.45,62.70 L104.45,64.40 L105.40,64.40 L105.40,66.10 L106.10,66.10 L106.10,67.55 L106.80,67.55 L106.80,69.00 L108.25,69.00 L108.25,69.70 L109.70,69.70 L109.70,70.40 L111.85,70.40 L111.85,71.25 L114.00,71.25 L114.00,72.10 L115.53,72.10 L115.53,72.97 L117.07,72.97 L117.07,73.83 L118.60,73.83 L118.60,74.70 L123.80,74.70 L124.95,74.70 L124.95,76.25 L126.10,76.25 L126.10,77.80 L127.97,77.80 L127.97,77.90 L129.85,77.90 L129.85,78.00 L131.72,78.00 L131.72,78.10 L133.60,78.10 L133.60,78.20 L135.65,78.20 L135.65,78.90 L137.70,78.90 L137.70,79.60 L139.70,79.60 L139.70,79.85 L141.70,79.85 L141.70,80.10 L143.45,80.10 L143.45,81.00 L145.20,81.00 L145.20,81.90 L146.90,81.90 L146.90,83.05 L148.60,83.05 L148.60,84.20 L150.65,84.20 L150.65,85.65 L152.70,85.65 L152.70,87.10 L153.07,87.10 L153.07,88.63 L153.43,88.63 L153.43,90.17 L153.80,90.17 L153.80,91.70 L155.53,91.70 L155.53,92.07 L157.27,92.07 L157.27,92.43 L159.00,92.43 L159.00,92.80 L160.53,92.80 L160.53,93.20 L162.07,93.20 L162.07,93.60 L163.60,93.60 L163.60,94.00 L170.40,94.00 L171.25,94.00 L171.25,95.35 L172.10,95.35 L172.10,96.70 L173.25,96.70 L173.25,98.15 L174.40,98.15 L174.40,99.60 L175.60,99.60 L175.60,102.20 L199.20,102.20 L200.85,102.20 L200.85,103.85 L202.50,103.85 L202.50,105.50 L204.20,105.50 L204.20,107.25 L205.90,107.25 L205.90,109.00 L208.05,109.00 L208.05,110.05 L210.20,110.05 L210.20,111.10 L211.70,111.10 L211.70,111.90 L212.30,111.90 L212.30,113.75 L212.90,113.75 L212.90,115.60 L229.00,115.60 L229.00,122.30 L250.90,122.30" fill="none" stroke="#f6d0da" stroke-width="3.4" stroke-linejoin="round"/>
<path d="M74.60,47.70 L75.90,47.70 L75.90,48.30 L77.55,48.30 L77.55,49.50 L79.20,49.50 L79.20,50.70 L80.70,50.70 L80.70,52.15 L82.20,52.15 L82.20,53.60 L84.05,53.60 L84.05,54.60 L85.90,54.60 L85.90,55.60 L87.75,55.60 L87.75,56.50 L89.60,56.50 L89.60,57.40 L91.50,57.40 L91.50,58.05 L93.40,58.05 L93.40,58.70 L97.70,58.70 L99.60,58.70 L99.60,59.30 L101.50,59.30 L101.50,59.90 L102.50,59.90 L102.50,61.30 L103.50,61.30 L103.50,62.70 L104.45,62.70 L104.45,64.40 L105.40,64.40 L105.40,66.10 L106.10,66.10 L106.10,67.55 L106.80,67.55 L106.80,69.00 L108.25,69.00 L108.25,69.70 L109.70,69.70 L109.70,70.40 L111.85,70.40 L111.85,71.25 L114.00,71.25 L114.00,72.10 L115.53,72.10 L115.53,72.97 L117.07,72.97 L117.07,73.83 L118.60,73.83 L118.60,74.70 L123.80,74.70 L124.95,74.70 L124.95,76.25 L126.10,76.25 L126.10,77.80 L127.97,77.80 L127.97,77.90 L129.85,77.90 L129.85,78.00 L131.72,78.00 L131.72,78.10 L133.60,78.10 L133.60,78.20 L135.65,78.20 L135.65,78.90 L137.70,78.90 L137.70,79.60 L139.70,79.60 L139.70,79.85 L141.70,79.85 L141.70,80.10 L143.45,80.10 L143.45,81.00 L145.20,81.00 L145.20,81.90 L146.90,81.90 L146.90,83.05 L148.60,83.05 L148.60,84.20 L150.65,84.20 L150.65,85.65 L152.70,85.65 L152.70,87.10 L153.07,87.10 L153.07,88.63 L153.43,88.63 L153.43,90.17 L153.80,90.17 L153.80,91.70 L155.53,91.70 L155.53,92.07 L157.27,92.07 L157.27,92.43 L159.00,92.43 L159.00,92.80 L160.53,92.80 L160.53,93.20 L162.07,93.20 L162.07,93.60 L163.60,93.60 L163.60,94.00 L170.40,94.00 L171.25,94.00 L171.25,95.35 L172.10,95.35 L172.10,96.70 L173.25,96.70 L173.25,98.15 L174.40,98.15 L174.40,99.60 L175.60,99.60 L175.60,102.20 L199.20,102.20 L200.85,102.20 L200.85,103.85 L202.50,103.85 L202.50,105.50 L204.20,105.50 L204.20,107.25 L205.90,107.25 L205.90,109.00 L208.05,109.00 L208.05,110.05 L210.20,110.05 L210.20,111.10 L211.70,111.10 L211.70,111.90 L212.30,111.90 L212.30,113.75 L212.90,113.75 L212.90,115.60 L229.00,115.60 L229.00,122.30 L250.90,122.30" fill="none" stroke="#6e0e2e" stroke-width="1.8" stroke-dasharray="2.8,1.8" stroke-linejoin="bevel"/>
<path d="M70.00,47.50 L166.50,47.50 L166.50,54.90 L172.90,54.90 L172.90,62.20 L202.20,62.20 L202.20,75.70 L250.90,75.70" fill="none" stroke="#2b3a5c" stroke-width="1.9" stroke-linejoin="miter"/>
</g>
<text transform="translate(8.3,19.7) scale(0.9,1)" font-size="14.6" font-weight="bold" class="let">A</text>
<text transform="translate(269.6,19.7) scale(0.86,1)" font-size="14.6" font-weight="bold" class="let">B</text>
<text transform="translate(8.7,308.4) scale(0.9,1)" font-size="14.6" font-weight="bold" class="let">C</text>
<text transform="translate(269.3,308.6) scale(0.9,1)" font-size="14.6" font-weight="bold" class="let">D</text>
<rect x="0.75" y="0.75" width="518.5" height="574.5" fill="none" stroke="#000" stroke-width="1.5"/>
</svg>
</body></html>
